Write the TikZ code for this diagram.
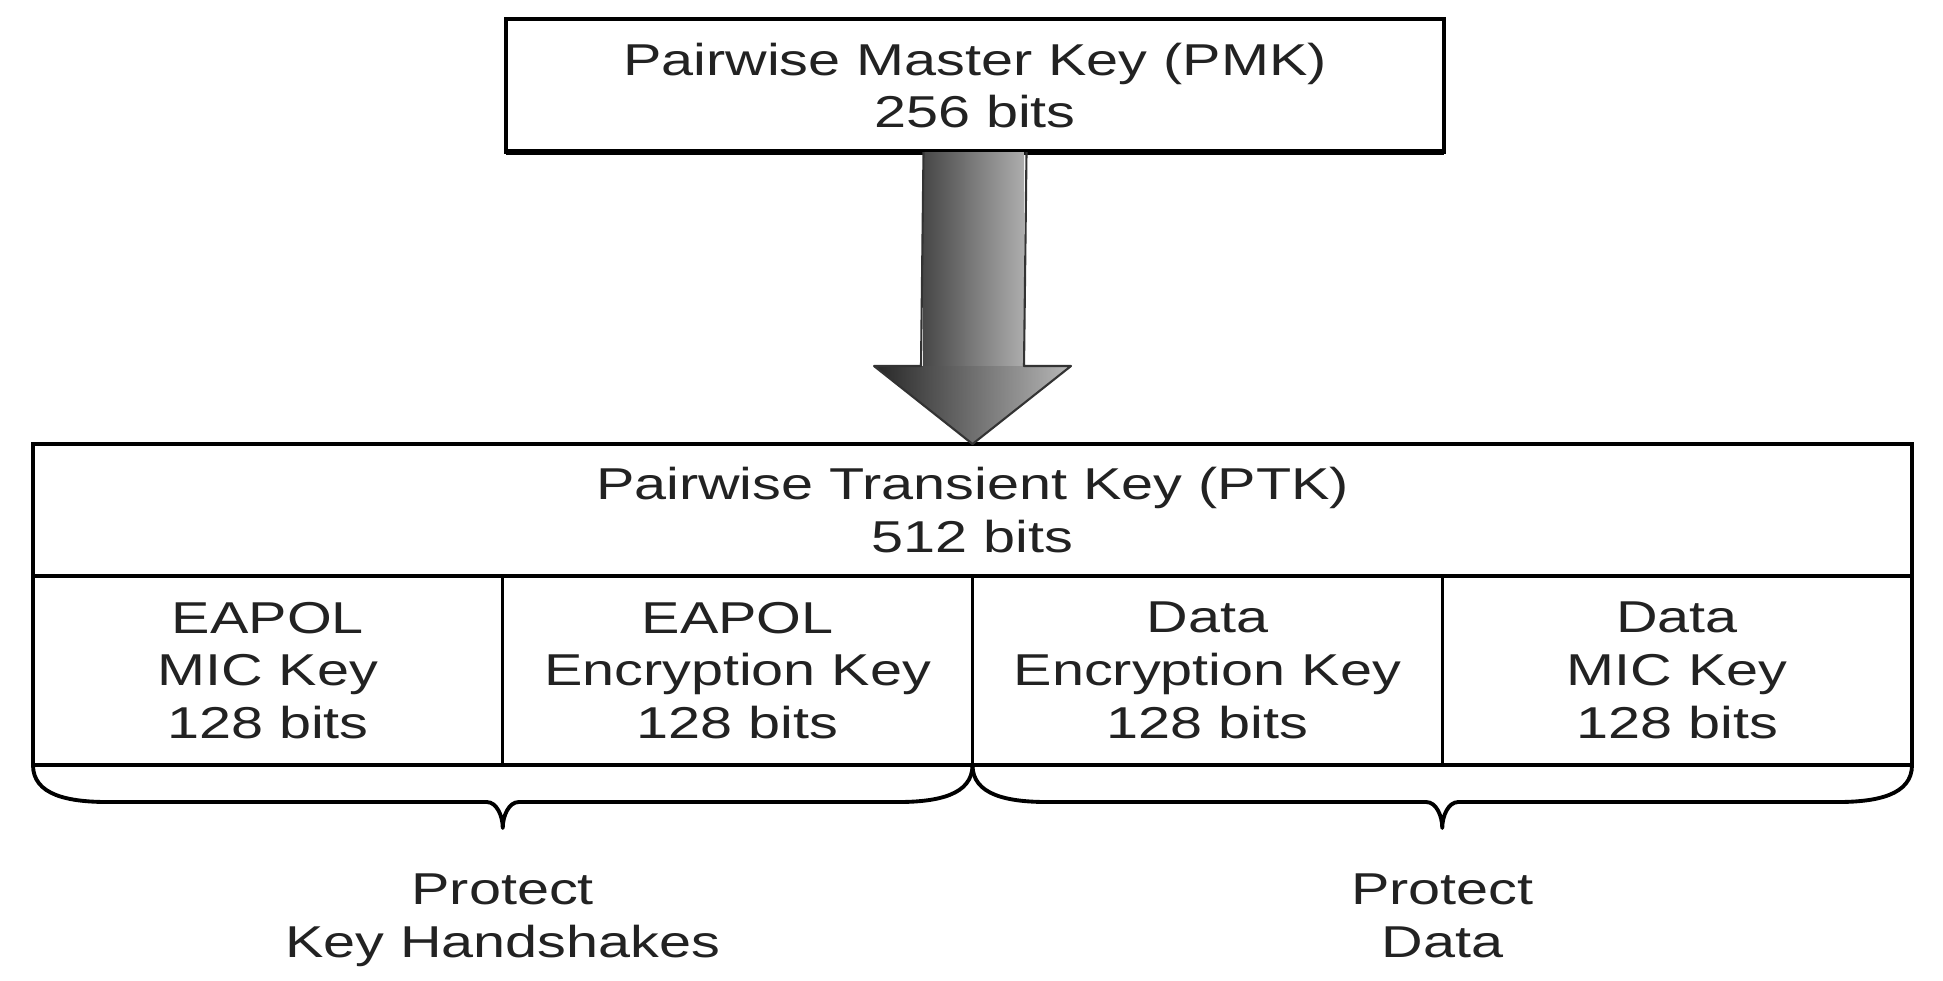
\documentclass[tikz,border=0pt]{standalone}
\usepackage{fontspec}
\setmainfont{Liberation Sans}[FakeStretch=1.29]
\usepackage{xcolor}
\usetikzlibrary{positioning,calc}
\definecolor{inkgray}{RGB}{34,34,34}

\begin{document}
\begin{tikzpicture}[every node/.style={font=\fontsize{12.7}{15}\selectfont, text=inkgray, align=center},
  keybox/.style={draw, line width=0.9pt, inner sep=0pt, outer sep=0pt},
  subkey/.style={keybox, minimum width=4.6975cm, minimum height=1.89cm},
  bracepath/.style={line width=1.1pt, line join=round}]
\useasboundingbox (0,0) rectangle (19.43,-9.80);
% master key and transient key
\node[keybox, minimum width=9.38cm, minimum height=1.33cm] (pmk) at (9.75,-0.855) {Pairwise Master Key (PMK)\\256 bits};
\draw[line width=1.6pt] (pmk.south west) -- (pmk.south east);
\node[keybox, minimum width=18.79cm, minimum height=1.32cm] (ptk) at (9.725,-5.10) {Pairwise Transient Key (PTK)\\512 bits};
\foreach \i/\txt in {1/{EAPOL\\MIC Key\\128 bits},2/{EAPOL\\Encryption Key\\128 bits},3/{Data\\Encryption Key\\128 bits},4/{Data\\MIC Key\\128 bits}}
  {\node[subkey, anchor=north west] (k\i) at ($(ptk.south west)+({(\i-1)*4.6975},0)$) {\txt};}
% derivation arrow
\shade[left color=black!72, right color=black!32] ($(pmk.south)+(-0.515,0)$) rectangle ($(ptk.north)+(0.515,0.78)$);
\shade[left color=black!85, right color=black!28] ($(ptk.north)+(-0.985,0.78)$) -- ($(ptk.north)+(0.985,0.78)$) -- (ptk.north) -- cycle;
\draw[line width=0.6pt, black!80, line join=round] ($(pmk.south)+(-0.515,0)$) -- ($(ptk.north)+(-0.515,0.78)$) -- ($(ptk.north)+(-0.985,0.78)$) -- (ptk.north) -- ($(ptk.north)+(0.985,0.78)$) -- ($(ptk.north)+(0.515,0.78)$) -- ($(pmk.south)+(0.515,0)$);
% braces
\coordinate (tipL) at ($(k1.south east)+(0,-0.63)$);
\coordinate (tipR) at ($(k3.south east)+(0,-0.63)$);
\draw[bracepath] (k1.south west) .. controls +(0,-0.3) and +(-0.4,0) .. ($(k1.south west)+(0.75,-0.37)$) -- ($(k1.south east)+(-0.16,-0.37)$) .. controls +(0.1,0) and +(0,0.12) .. (tipL) .. controls +(0,0.12) and +(-0.1,0) .. ($(k1.south east)+(0.16,-0.37)$) -- ($(k2.south east)+(-0.75,-0.37)$) .. controls +(0.4,0) and +(0,-0.3) .. (k2.south east);
\draw[bracepath] (k3.south west) .. controls +(0,-0.3) and +(-0.4,0) .. ($(k3.south west)+(0.75,-0.37)$) -- ($(k3.south east)+(-0.16,-0.37)$) .. controls +(0.1,0) and +(0,0.12) .. (tipR) .. controls +(0,0.12) and +(-0.1,0) .. ($(k3.south east)+(0.16,-0.37)$) -- ($(k4.south east)+(-0.75,-0.37)$) .. controls +(0.4,0) and +(0,-0.3) .. (k4.south east);
\node (hs) at ($(tipL)+(0,-0.92)$) {Protect\\Key Handshakes};
\node (dt) at ($(tipR)+(0,-0.88)$) {Protect\\Data};
\end{tikzpicture}
\end{document}
